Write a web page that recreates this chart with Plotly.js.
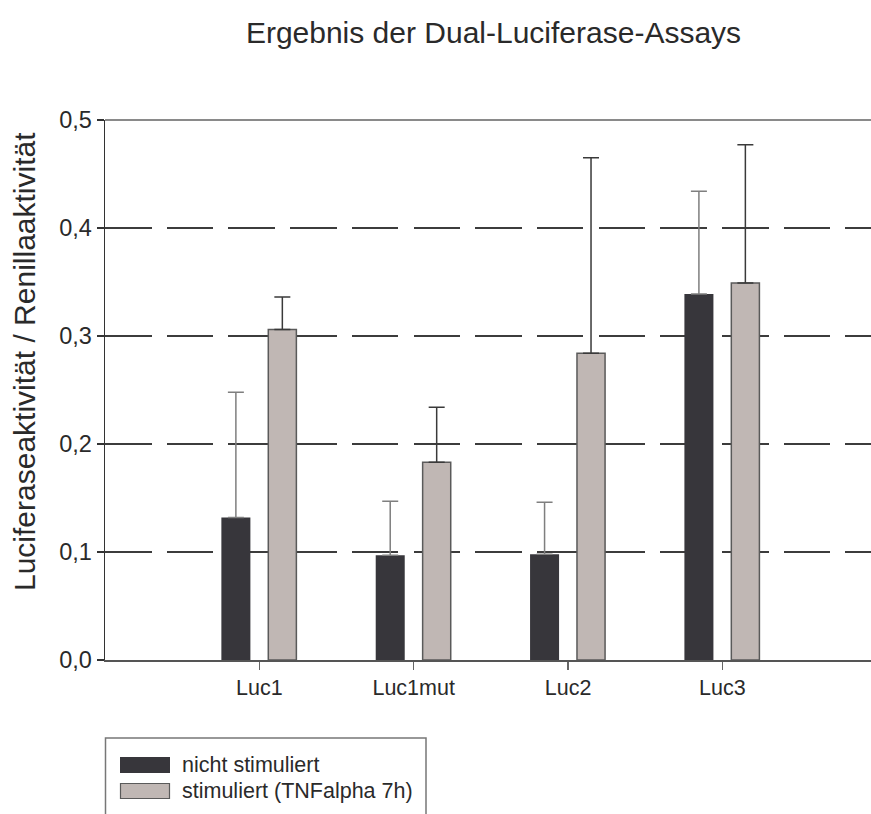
<!DOCTYPE html>
<html>
<head>
<meta charset="utf-8">
<script src="https://cdn.plot.ly/plotly-3.0.1.min.js"></script>
<style>html,body{margin:0;padding:0;background:#fff;overflow:hidden}#chart{width:871px;height:814px}</style>
</head>
<body>
<div id="chart"></div>
<script>
// Data
const categories = ["Luc1", "Luc1mut", "Luc2", "Luc3"];
const seriesNames = ["nicht stimuliert", "stimuliert (TNFalpha 7h)"];
const unstimValues = [0.132, 0.097, 0.098, 0.339];
const unstimErrors = [0.116, 0.050, 0.048, 0.095];
const stimValues = [0.306, 0.183, 0.284, 0.349];
const stimErrors = [0.030, 0.051, 0.181, 0.128];
const yTickValues = [0, 0.1, 0.2, 0.3, 0.4, 0.5];

const FONT = "Liberation Sans, Arial, sans-serif";
const TXT = "#2a2a2a";
const darkColor = "#37363b";
const lightColor = "#c0b7b4";

// pixel helpers for the custom legend (plot area: x 105..871, y 120..660)
const L = 105, R = 871, T = 120, B = 660;
const px = v => (v - L) / (R - L);
const py = v => (B - v) / (B - T);

const zeros = categories.map(() => 0);

const traces = [
  {
    type: "bar", name: seriesNames[0], x: categories, y: unstimValues,
    width: 0.188, offset: -0.246,
    marker: {color: darkColor, line: {color: darkColor, width: 0}},
    error_y: {type: "data", symmetric: false, array: unstimErrors, arrayminus: zeros,
              color: "#7f7f7f", thickness: 1.5, width: 8},
    showlegend: false
  },
  {
    type: "bar", name: seriesNames[1], x: categories, y: stimValues,
    width: 0.182, offset: 0.058,
    marker: {color: lightColor, line: {color: "#5a5a5a", width: 1.5}},
    error_y: {type: "data", symmetric: false, array: stimErrors, arrayminus: zeros,
              color: "#3a3a3a", thickness: 1.5, width: 8},
    showlegend: false
  }
];

const shapes = [
  // top frame line
  {type: "line", xref: "paper", yref: "paper", x0: 0, x1: 1, y0: 1, y1: 1,
   line: {color: "#8a8a8a", width: 2}, layer: "above"},
  // legend box
  {type: "rect", xref: "paper", yref: "paper", x0: px(105.5), x1: px(426), y0: py(738), y1: py(840),
   line: {color: "#777", width: 1.5}, fillcolor: "rgba(0,0,0,0)"},
  // legend swatches
  {type: "rect", xref: "paper", yref: "paper", x0: px(120), x1: px(170), y0: py(757), y1: py(773),
   line: {width: 0}, fillcolor: darkColor},
  {type: "rect", xref: "paper", yref: "paper", x0: px(120.5), x1: px(169.5), y0: py(783.5), y1: py(798.5),
   line: {color: "#5a5a5a", width: 1.2}, fillcolor: lightColor}
];

const annotations = [
  {xref: "paper", yref: "paper", x: px(180), y: py(765), xanchor: "left", yanchor: "middle",
   text: seriesNames[0], showarrow: false, font: {family: FONT, size: 21.5, color: TXT}},
  {xref: "paper", yref: "paper", x: px(180), y: py(791), xanchor: "left", yanchor: "middle",
   text: seriesNames[1], showarrow: false, font: {family: FONT, size: 21.5, color: TXT}},
  {xref: "paper", yref: "paper", x: px(24), y: py(362), xanchor: "center", yanchor: "middle",
   text: "Luciferaseaktivität / Renillaaktivität", textangle: -90, showarrow: false,
   font: {family: FONT, size: 30, color: TXT}}
];

const layout = {
  width: 871, height: 814,
  margin: {l: L, r: 871 - R, t: T, b: 814 - B, pad: 0},
  paper_bgcolor: "#fff", plot_bgcolor: "#fff",
  separators: ",.",
  font: {family: FONT, color: TXT},
  title: {text: "Ergebnis der Dual-Luciferase-Assays", xref: "container", yref: "container",
          x: 493.5 / 871, y: 1 - 32 / 814, xanchor: "center", yanchor: "middle",
          font: {family: FONT, size: 30, color: TXT}},
  barmode: "overlay",
  xaxis: {
    type: "category", range: [-1, 3.963], categoryorder: "array", categoryarray: categories,
    showline: true, linecolor: "#555", linewidth: 1.5,
    ticks: "outside", ticklen: 8, tickcolor: "#666", tickwidth: 1.5,
    showgrid: false, zeroline: false,
    tickfont: {family: FONT, size: 21.5, color: TXT}
  },
  yaxis: {
    range: [0, 0.5], tickvals: yTickValues, tickformat: ".1f",
    showline: true, linecolor: "#333", linewidth: 1.5,
    ticks: "outside", ticklen: 7, tickcolor: "#333", tickwidth: 1.5,
    showgrid: true, gridcolor: "#3c3c3c", gridwidth: 1.5, griddash: "46.5px,15.2px",
    zeroline: false,
    tickfont: {family: FONT, size: 23.5, color: TXT}
  },
  shapes: shapes,
  annotations: annotations
};

Plotly.newPlot("chart", traces, layout, {displayModeBar: false, staticPlot: true});
</script>
</body>
</html>
